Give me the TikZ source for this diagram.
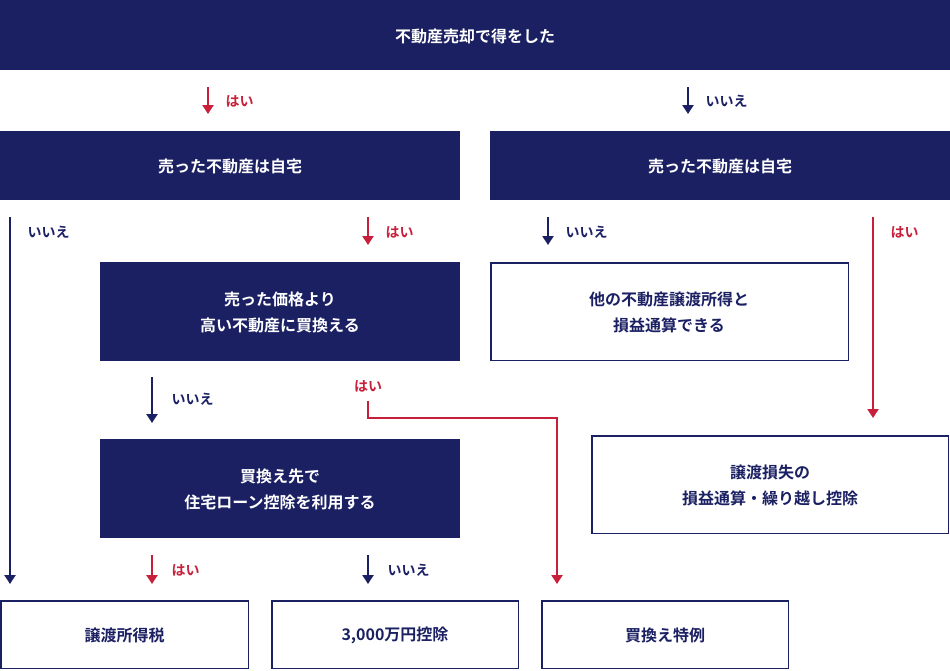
\documentclass[tikz,border=0pt]{standalone}
\usepackage{fontspec}
\newfontfamily\jp{Noto Sans CJK JP}
\newfontfamily\jpb{Noto Sans CJK JP Bold}
\usetikzlibrary{arrows.meta}
\definecolor{navy}{HTML}{1B2063}
\definecolor{rd}{HTML}{C8203A}
\begin{document}
\begin{tikzpicture}[x=1pt,y=-1pt,
 nb/.style={fill=navy,text=white,font=\jpb\fontsize{16}{26}\selectfont,align=center},
 wb/.style={draw=navy,line width=1.5pt,fill=white,text=navy,font=\jpb\fontsize{16}{26}\selectfont,align=center},
 ar/.style={line width=2.2pt,-{Triangle[length=9pt,width=11pt]}},
 lr/.style={text=rd,font=\jpb\fontsize{14}{16}\selectfont,anchor=west},
 ln/.style={text=navy,font=\jpb\fontsize{14}{16}\selectfont,anchor=west}]
\useasboundingbox (0,0) rectangle (950,670);
\path[nb] (0,0) rectangle (950,70);
\node[text=white,font=\jpb\fontsize{16}{20}\selectfont] (top) at (475,36) {不動産売却で得をした};
% row 1
\coordinate (a1) at (208,87); \coordinate (a1e) at (208,114);
\draw[ar,rd] (a1) -- (a1e); \node[lr] at (222,101) {はい};
\coordinate (a2) at (688,87); \coordinate (a2e) at (688,114);
\draw[ar,navy] (a2) -- (a2e); \node[ln] at (702,101) {いいえ};
\fill[navy] (0,131) rectangle (460,200); \node[text=white,font=\jpb\fontsize{16}{20}\selectfont] (L1) at (230,166) {売った不動産は自宅};
\fill[navy] (490,131) rectangle (950,200); \node[text=white,font=\jpb\fontsize{16}{20}\selectfont] (R1) at (720,166) {売った不動産は自宅};
% left branch
\coordinate (b1) at (10,217); \coordinate (b1e) at (10,584);
\draw[ar,navy] (b1) -- (b1e); \node[ln] at (24,232) {いいえ};
\coordinate (b2) at (368,217); \coordinate (b2e) at (368,245);
\draw[ar,rd] (b2) -- (b2e); \node[lr] at (382,232) {はい};
\fill[navy] (100,262) rectangle (460,361);
\node[nb] (L2) at (280,312) {売った価格より\\高い不動産に買換える};
% right branch
\coordinate (c1) at (548,217); \coordinate (c1e) at (548,245);
\draw[ar,navy] (c1) -- (c1e); \node[ln] at (562,232) {いいえ};
\draw[navy,line width=1.5pt,fill=white] (490.75,262.75) rectangle (848.25,360.25);
\node[text=navy,font=\jpb\fontsize{16}{26}\selectfont,align=center] (R2) at (669,312) {他の不動産譲渡所得と\\損益通算できる};
\coordinate (c2) at (873,217); \coordinate (c2e) at (873,418);
\draw[ar,rd] (c2) -- (c2e); \node[lr] at (887,232) {はい};
\draw[navy,line width=1.5pt,fill=white] (591.75,435.75) rectangle (948.25,533.25);
\node[text=navy,font=\jpb\fontsize{16}{26}\selectfont,align=center] (R3) at (770,485) {譲渡損失の\\損益通算・繰り越し控除};
% middle
\coordinate (d1) at (152,377); \coordinate (d1e) at (152,423);
\draw[ar,navy] (d1) -- (d1e); \node[ln] at (168,399) {いいえ};
\node[lr,anchor=center] at (368,386) {はい};
\coordinate (d2) at (368,401); \coordinate (d2e) at (557,584);
\draw[ar,rd] (d2) |- (462,418) -| (d2e);
\fill[navy] (100,439) rectangle (460,538);
\node[nb] (L3) at (280,489) {買換え先で\\住宅ローン控除を利用する};
\coordinate (e1) at (152,555); \coordinate (e1e) at (152,584);
\draw[ar,rd] (e1) -- (e1e); \node[lr] at (168,570) {はい};
\coordinate (e2) at (368,555); \coordinate (e2e) at (368,584);
\draw[ar,navy] (e2) -- (e2e); \node[ln] at (384,570) {いいえ};
% bottom
\draw[navy,line width=1.5pt,fill=white] (0.75,600.75) rectangle (248.25,668.25);
\node[text=navy,font=\jpb\fontsize{16}{20}\selectfont] (B1) at (124.5,635) {譲渡所得税};
\draw[navy,line width=1.5pt,fill=white] (271.75,600.75) rectangle (518.25,668.25);
\node[text=navy,font=\jpb\fontsize{16}{20}\selectfont] (B2) at (395,635) {3,000万円控除};
\draw[navy,line width=1.5pt,fill=white] (541.75,600.75) rectangle (788.25,668.25);
\node[text=navy,font=\jpb\fontsize{16}{20}\selectfont] (B3) at (665,635) {買換え特例};
\end{tikzpicture}
\end{document}
